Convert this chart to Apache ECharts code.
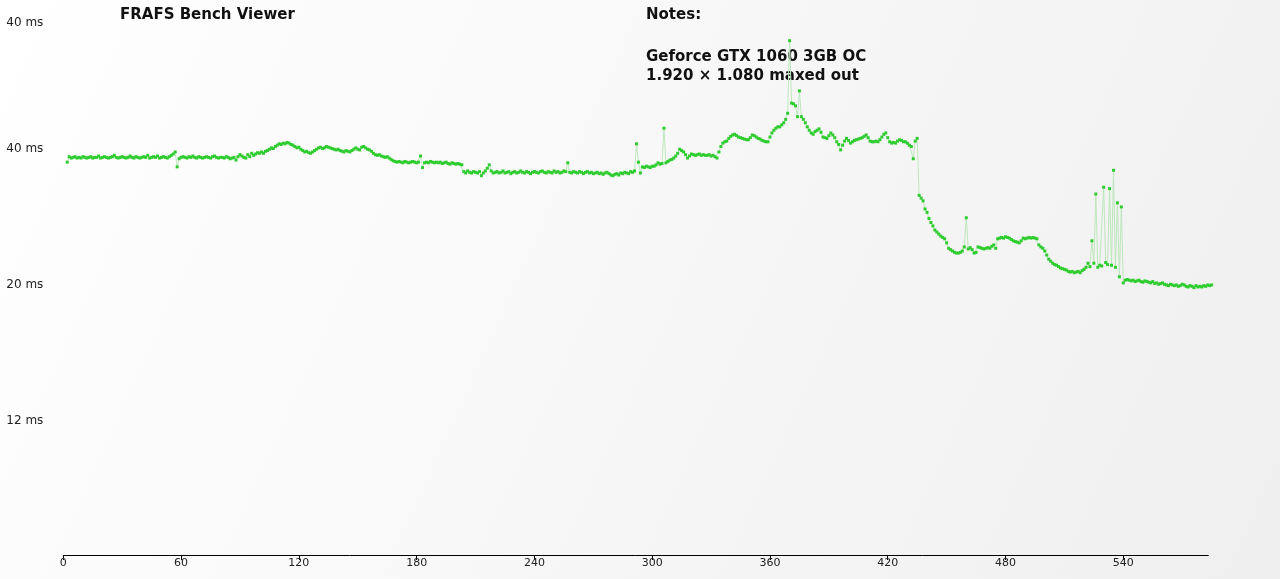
<!DOCTYPE html>
<html>
<head>
<meta charset="utf-8">
<script src="https://cdn.jsdelivr.net/npm/echarts@6/dist/echarts.min.js"></script>
<style>
  html, body { margin: 0; padding: 0; }
  #chart { width: 1280px; height: 579px; }
</style>
</head>
<body>
<div id="chart"></div>
<script>
// ---- data ----
const titleText = 'FRAFS Bench Viewer';
const notesTitle = 'Notes:';
const notesLines = ['Geforce GTX 1060 3GB OC', '1.920 \u00d7 1.080 maxed out'];

const xTickValues = [0, 60, 120, 180, 240, 300, 360, 420, 480, 540];
const yTickValues = [19.8, 39.8, 59.8, 78.45];
const yTickLabels = ['12 ms', '20 ms', '40 ms', '40 ms'];

const startSecond = 2;
const values = [
  // 2..11
  57.9, 58.7, 58.5, 58.6, 58.7, 58.5, 58.6, 58.5, 58.7, 58.6,
  // 12..21
  58.5, 58.6, 58.7, 58.5, 58.6, 58.6, 58.8, 58.5, 58.6, 58.7,
  // 22..31
  58.6, 58.5, 58.6, 58.7, 58.9, 58.6, 58.5, 58.6, 58.7, 58.6,
  // 32..41
  58.5, 58.6, 58.8, 58.6, 58.5, 58.7, 58.6, 58.5, 58.6, 58.7,
  // 42..51
  58.6, 58.9, 58.5, 58.6, 58.7, 58.6, 58.8, 58.5, 58.6, 58.7,
  // 52..61
  58.6, 58.5, 58.7, 58.9, 59.1, 59.4, 57.2, 58.4, 58.6, 58.7,
  // 62..71
  58.6, 58.5, 58.7, 58.6, 58.8, 58.6, 58.5, 58.7, 58.6, 58.5,
  // 72..81
  58.6, 58.7, 58.6, 58.5, 58.7, 58.8, 58.6, 58.5, 58.6, 58.6,
  // 82..91
  58.5, 58.7, 58.6, 58.4, 58.5, 58.6, 58.2, 58.7, 59.0, 58.8,
  // 92..101
  58.6, 58.5, 59.0, 58.7, 59.2, 58.9, 59.1, 59.3, 59.2, 59.4,
  // 102..111
  59.2, 59.5, 59.6, 59.8, 60.0, 59.9, 60.2, 60.4, 60.6, 60.5,
  // 112..121
  60.7, 60.6, 60.8, 60.7, 60.5, 60.4, 60.2, 60.0, 60.1, 59.8,
  // 122..131
  59.6, 59.4, 59.5, 59.3, 59.2, 59.4, 59.6, 59.8, 60.0, 60.1,
  // 132..141
  59.9, 60.0, 60.2, 60.1, 60.0, 59.9, 59.8, 59.7, 59.8, 59.6,
  // 142..151
  59.5, 59.4, 59.6, 59.5, 59.4, 59.6, 59.8, 60.0, 59.8, 59.7,
  // 152..161
  60.1, 60.2, 60.0, 59.8, 59.7, 59.5, 59.2, 59.0, 58.9, 59.0,
  // 162..171
  58.8, 58.7, 58.6, 58.7, 58.5, 58.3, 58.1, 58.0, 57.9, 58.0,
  // 172..181
  57.9, 57.8, 58.0, 57.9, 57.8, 57.9, 58.0, 57.9, 57.8, 57.9,
  // 182..191
  58.8, 57.1, 57.8, 57.9, 57.8, 58.0, 57.9, 57.8, 57.9, 57.8,
  // 192..201
  57.9, 57.7, 57.8, 57.9, 57.7, 57.6, 57.8, 57.7, 57.6, 57.7,
  // 202..211
  57.6, 57.5, 56.5, 56.3, 56.6, 56.4, 56.3, 56.5, 56.4, 56.3,
  // 212..221
  56.5, 55.9, 56.3, 56.6, 57.0, 57.5, 56.6, 56.3, 56.4, 56.5,
  // 222..231
  56.3, 56.4, 56.6, 56.3, 56.4, 56.5, 56.2, 56.4, 56.5, 56.3,
  // 232..241
  56.4, 56.6, 56.4, 56.3, 56.5, 56.4, 56.2, 56.4, 56.5, 56.4,
  // 242..251
  56.3, 56.5, 56.6, 56.4, 56.3, 56.5, 56.4, 56.3, 56.6, 56.4,
  // 252..261
  56.5, 56.3, 56.4, 56.6, 56.5, 57.8, 56.4, 56.3, 56.5, 56.4,
  // 262..271
  56.3, 56.5, 56.4, 56.2, 56.4, 56.5, 56.3, 56.4, 56.2, 56.3,
  // 272..281
  56.4, 56.2, 56.3, 56.1, 56.3, 56.4, 56.2, 56.0, 55.9, 56.1,
  // 282..291
  56.2, 56.0, 56.3, 56.2, 56.4, 56.3, 56.2, 56.5, 56.4, 56.6,
  // 292..301
  60.6, 57.9, 56.3, 57.2, 57.1, 57.3, 57.2, 57.1, 57.3, 57.3,
  // 302..311
  57.5, 57.8, 57.6, 57.7, 62.9, 57.8, 58.0, 58.2, 58.3, 58.5,
  // 312..321
  58.8, 59.2, 59.8, 59.6, 59.4, 59.0, 58.5, 58.8, 59.1, 59.0,
  // 322..331
  58.9, 59.0, 59.1, 58.9, 59.0, 58.9, 58.9, 59.0, 58.8, 58.9,
  // 332..341
  58.7, 58.5, 59.4, 60.2, 60.7, 60.9, 61.0, 61.4, 61.7, 61.9,
  // 342..351
  62.0, 61.8, 61.6, 61.5, 61.4, 61.3, 61.2, 61.2, 61.5, 61.9,
  // 352..361
  61.8, 61.6, 61.4, 61.3, 61.1, 61.0, 60.9, 60.9, 61.6, 62.2,
  // 362..371
  62.6, 62.9, 63.1, 63.1, 63.4, 63.7, 64.2, 65.1, 75.8, 66.6,
  // 372..381
  66.5, 66.2, 64.6, 68.4, 64.6, 64.2, 63.7, 63.1, 62.6, 62.2,
  // 382..391
  62.0, 62.4, 62.6, 62.8, 62.3, 61.6, 61.5, 61.4, 61.8, 62.2,
  // 392..401
  61.9, 61.5, 60.9, 60.5, 59.7, 60.4, 61.0, 61.4, 61.1, 60.7,
  // 402..411
  60.9, 61.1, 61.2, 61.3, 61.4, 61.5, 61.7, 61.9, 61.5, 61.0,
  // 412..421
  60.9, 60.9, 61.0, 60.9, 61.2, 61.6, 62.0, 62.2, 61.5, 60.9,
  // 422..431
  60.7, 60.8, 60.7, 61.0, 61.2, 61.1, 60.9, 60.9, 60.7, 60.4,
  // 432..441
  60.2, 58.4, 61.0, 61.4, 53.0, 52.6, 52.2, 51.0, 50.5, 49.6,
  // 442..451
  49.0, 48.5, 47.9, 47.6, 47.3, 47.0, 46.8, 46.6, 46.0, 45.2,
  // 452..461
  45.0, 44.8, 44.6, 44.5, 44.5, 44.6, 44.8, 45.4, 49.7, 45.1,
  // 462..471
  45.3, 45.0, 44.5, 44.6, 45.4, 45.3, 45.2, 45.1, 45.2, 45.3,
  // 472..481
  45.2, 45.5, 45.7, 45.2, 46.6, 46.7, 46.8, 46.7, 46.9, 46.8,
  // 482..491
  46.7, 46.5, 46.3, 46.2, 46.1, 46.0, 46.3, 46.7, 46.6, 46.7,
  // 492..501
  46.8, 46.7, 46.8, 46.7, 46.6, 45.7, 45.4, 45.2, 44.8, 44.2,
  // 502..511
  43.6, 43.3, 43.0, 42.8, 42.7, 42.5, 42.3, 42.2, 42.1, 42.0,
  // 512..521
  41.8, 41.7, 41.8, 41.6, 41.7, 41.8, 41.6, 41.9, 42.1, 42.4,
  // 522..531
  43.0, 42.5, 46.3, 43.0, 53.2, 42.4, 42.7, 42.6, 54.2, 43.1,
  // 532..541
  42.8, 54.0, 42.7, 56.7, 42.4, 51.9, 41.0, 51.3, 40.1, 40.5,
  // 542..551
  40.6, 40.5, 40.4, 40.5, 40.3, 40.4, 40.5, 40.3, 40.2, 40.4,
  // 552..561
  40.3, 40.2, 40.1, 40.3, 40.0, 40.1, 39.9, 40.0, 40.1, 39.9,
  // 562..571
  39.8, 39.7, 39.9, 39.8, 39.7, 39.8, 39.6, 39.7, 39.9, 39.8,
  // 572..581
  39.6, 39.5, 39.7, 39.6, 39.4, 39.7, 39.5, 39.6, 39.5, 39.7,
  // 582..585
  39.6, 39.8, 39.7, 39.8
];

// ---- chart ----
const seriesData = values.map((v, i) => [startSecond + i, v]);
const chart = echarts.init(document.getElementById('chart'), null, { renderer: 'canvas' });

const labelFont = 'DejaVu Sans';
const titleFont = 'DejaVu Sans';

chart.setOption({
  animation: false,
  backgroundColor: {
    type: 'linear', x: 0, y: 0, x2: 1, y2: 1,
    colorStops: [{ offset: 0, color: '#ffffff' }, { offset: 1, color: '#efefef' }]
  },
  grid: { left: 63.3, right: 71.7, top: 10, bottom: 24 },
  xAxis: {
    type: 'value', min: 0, max: 583.3,
    axisLine: { show: true, lineStyle: { color: '#000', width: 1 } },
    axisTick: { show: true, length: 5, lineStyle: { color: '#000' }, customValues: xTickValues },
    axisLabel: { customValues: xTickValues, color: '#222', fontFamily: labelFont, fontSize: 11, margin: 3 },
    splitLine: { show: false }
  },
  yAxis: {
    type: 'value', min: 0, max: 80.32,
    axisLine: { show: false },
    axisTick: { show: false },
    splitLine: { show: false },
    axisLabel: {
      customValues: yTickValues,
      align: 'left', margin: 57,
      color: '#222', fontFamily: labelFont, fontSize: 12,
      formatter: function (v) {
        let best = 0;
        for (let i = 0; i < yTickValues.length; i++) {
          if (Math.abs(yTickValues[i] - v) < Math.abs(yTickValues[best] - v)) best = i;
        }
        return yTickLabels[best];
      }
    }
  },
  graphic: [
    { type: 'text', left: 120, top: 8, style: { text: titleText, font: 'bold 15px "' + titleFont + '"', fill: '#111' } },
    { type: 'text', left: 646, top: 8, style: { text: notesTitle, font: 'bold 15px "' + titleFont + '"', fill: '#111' } },
    { type: 'text', left: 646, top: 47, style: { text: notesLines.join('\n'), font: 'bold 15px "' + titleFont + '"', lineHeight: 19.5, fill: '#111' } }
  ],
  series: [{
    type: 'line',
    data: seriesData,
    clip: false,
    showAllSymbol: true,
    symbol: 'rect',
    symbolSize: 3,
    sampling: null,
    itemStyle: { color: '#2fcc2f' },
    lineStyle: { color: '#bde8bd', width: 1 },
    emphasis: { disabled: true }
  }]
});
</script>
</body>
</html>
